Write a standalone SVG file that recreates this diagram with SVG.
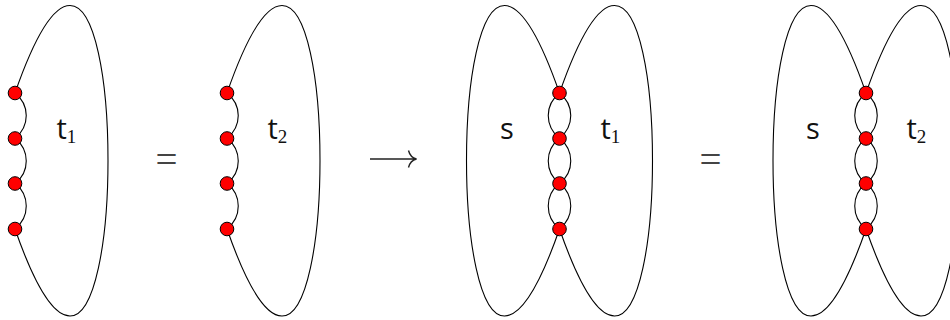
<svg xmlns="http://www.w3.org/2000/svg" width="950" height="320" viewBox="0 0 950 320">
<style>
.e{fill:none;stroke:#000;stroke-width:1.1}
.n{fill:#f00;stroke:#000;stroke-width:1}
.l{font-family:"Open Sans","Liberation Sans",sans-serif;font-size:29px;fill:#111}
.b{font-family:"Liberation Serif",serif;font-size:19px;fill:#111}
.m{font-family:"Liberation Serif",serif;font-size:39px;fill:#444}
.a{fill:none;stroke:#222;stroke-width:1.400}
</style>
<defs>
<path id="right" class="e" d="M0,93C15,50 35,5.500 55,5.500C80,5.500 93,80 93,160.500C93,240 80,316 55,316C35,316 15,272 0,229"/>
<path id="left" class="e" d="M0,93C-15,50 -35,5.500 -55,5.500C-80,5.500 -93,80 -93,160.500C-93,240 -80,316 -55,316C-35,316 -15,272 0,229"/>
<path id="arcsR" class="e" d="M0,93C15,105 15,126 0,138.500M0,138.500C15,150 15,172 0,183.500M0,183.500C15,195 15,217 0,229"/>
<path id="arcsL" class="e" d="M0,93C-15,105 -15,126 0,138.500M0,138.500C-15,150 -15,172 0,183.500M0,183.500C-15,195 -15,217 0,229"/>
<circle id="dot" class="n" r="6.800"/>
</defs>
<g id="connectors">
<use href="#right" x="15"/><use href="#arcsR" x="15"/>
<use href="#right" x="227"/><use href="#arcsR" x="227"/>
<use href="#left" x="559.500"/><use href="#right" x="559.500"/><use href="#arcsL" x="559.500"/><use href="#arcsR" x="559.500"/>
<use href="#left" x="866"/><use href="#right" x="866"/><use href="#arcsL" x="866"/><use href="#arcsR" x="866"/>
</g>
<g id="graph-t1">
<use href="#dot" x="15" y="93"/><use href="#dot" x="15" y="138.500"/><use href="#dot" x="15" y="183.500"/><use href="#dot" x="15" y="229"/>
<text class="l" x="56.500" y="138.500">t<tspan class="b" dy="4">1</tspan></text>
</g>
<g id="graph-t2">
<use href="#dot" x="227" y="93"/><use href="#dot" x="227" y="138.500"/><use href="#dot" x="227" y="183.500"/><use href="#dot" x="227" y="229"/>
<text class="l" x="267.500" y="138.500">t<tspan class="b" dy="4">2</tspan></text>
</g>
<g id="graph-s-t1">
<use href="#dot" x="559.500" y="93"/><use href="#dot" x="559.500" y="138.500"/><use href="#dot" x="559.500" y="183.500"/><use href="#dot" x="559.500" y="229"/>
<text class="l" x="500" y="138.500">s</text>
<text class="l" x="600.500" y="138.500">t<tspan class="b" dy="4">1</tspan></text>
</g>
<g id="graph-s-t2">
<use href="#dot" x="866" y="93"/><use href="#dot" x="866" y="138.500"/><use href="#dot" x="866" y="183.500"/><use href="#dot" x="866" y="229"/>
<text class="l" x="806" y="138.500">s</text>
<text class="l" x="906.500" y="138.500">t<tspan class="b" dy="4">2</tspan></text>
</g>
<g id="relations">
<text class="m" x="166.500" y="173" text-anchor="middle">=</text>
<text class="m" x="710.500" y="173" text-anchor="middle">=</text>
<path class="a" d="M370,159H416M408.500,150.500C409.500,154.500 412.500,158 416.500,159C412.500,160 409.500,163.500 408.500,167.500"/>
</g>
</svg>
